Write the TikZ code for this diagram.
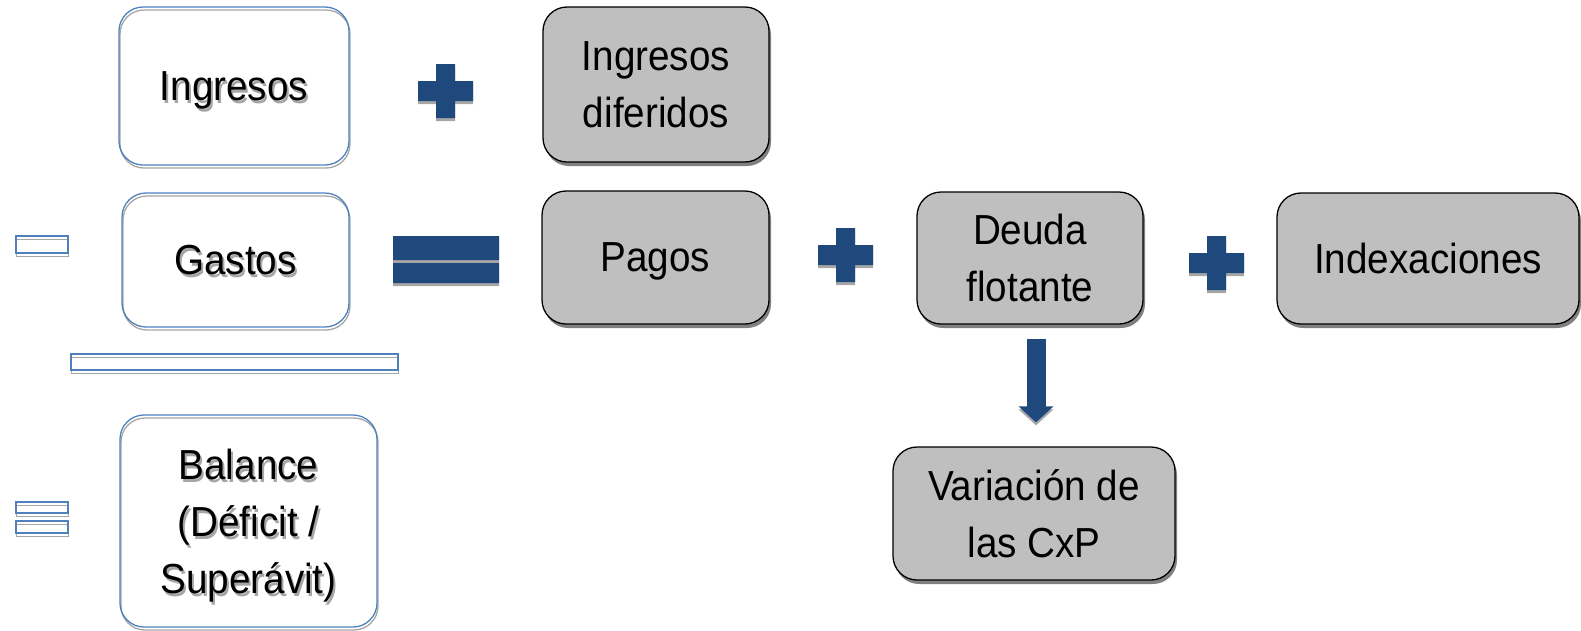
\documentclass[tikz,border=0pt]{standalone}
\usepackage{fontspec}
\setmainfont{Liberation Sans}[FakeStretch=0.92]
\usepackage{xcolor}
\usetikzlibrary{shadows,arrows.meta}

\definecolor{boxblue}{HTML}{4F81BD}
\definecolor{signblue}{HTML}{1F497D}
\definecolor{boxgray}{HTML}{BFBFBF}
\definecolor{shadowgray}{HTML}{A6A6A6}

\newcommand{\shtxt}[1]{\leavevmode\rlap{\kern2pt\raisebox{-3pt}{\color{shadowgray}#1}}#1}

\begin{document}
\begin{tikzpicture}[x=1pt,y=-1pt,font=\fontsize{42}{57}\selectfont,
  base/.style={rounded corners=24pt, inner sep=0pt, align=center, line width=1.3pt, text depth=-8pt},
  whitebox/.style={base, draw=boxblue, preaction={draw=shadowgray, transform canvas={shift={(1pt,-3pt)}}}},
  graybox/.style={base, draw=black, fill=boxgray, drop shadow={shadow xshift=2pt, shadow yshift=-4pt, fill=gray, opacity=1}},
  outsign/.style={draw=boxblue, line width=1.5pt, preaction={draw=shadowgray, transform canvas={shift={(0pt,-3pt)}}}},
  blockarrow/.style={draw=signblue, line width=19pt, -{Triangle[width=34pt,length=16pt]}}]

\useasboundingbox (0,0) rectangle (1581,630);

\node[whitebox, minimum width=230pt, minimum height=158pt] (ingresos) at (234,86) {\shtxt{Ingresos}};
\node[whitebox, minimum width=227pt, minimum height=134pt] (gastos) at (235.5,260) {\shtxt{Gastos}};
\node[whitebox, minimum width=257pt, minimum height=212pt] (balance) at (248.5,521) {\shtxt{Balance}\\\shtxt{(Déficit /}\\\shtxt{Superávit)}};

\node[graybox, minimum width=226pt, minimum height=155pt] (ingdif) at (656,84.5) {Ingresos\\diferidos};
\node[graybox, minimum width=227pt, minimum height=133pt] (pagos) at (655.5,257.5) {Pagos};
\node[graybox, minimum width=226pt, minimum height=132pt] (deuda) at (1030,258) {Deuda\\flotante};
\node[graybox, minimum width=302pt, minimum height=131pt] (index) at (1428,258.5) {Indexaciones};
\node[graybox, minimum width=282pt, minimum height=133pt] (varcxp) at (1034,513.5) {Variación de\\las CxP};

\draw[blockarrow, shorten <=14pt, shorten >=24pt, preaction={draw=shadowgray, transform canvas={shift={(0pt,-3pt)}}}] ([xshift=6pt]deuda.south) -- ([xshift=2pt]varcxp.north);

% signos
\foreach \cx/\cy in {445.5/91, 845.5/255, 1216.5/263} {
  \fill[shadowgray] ({\cx-9.5},{\cy-27+3}) rectangle ({\cx+9.5},{\cy+27+3})
                    ({\cx-27.5},{\cy-10+3}) rectangle ({\cx+27.5},{\cy+10+3});
  \fill[signblue] ({\cx-9.5},{\cy-27}) rectangle ({\cx+9.5},{\cy+27})
                  ({\cx-27.5},{\cy-10}) rectangle ({\cx+27.5},{\cy+10});
}
\fill[shadowgray] (393,239) rectangle (499,263) (393,266) rectangle (499,286);
\fill[signblue] (393,236) rectangle (499,260) (393,263) rectangle (499,283);

\draw[outsign] (16,236) rectangle (68,253);
\draw[outsign] (71,354) rectangle (398,370);
\draw[outsign] (16,502) rectangle (68,513) (16,521) rectangle (68,533);

\end{tikzpicture}
\end{document}
